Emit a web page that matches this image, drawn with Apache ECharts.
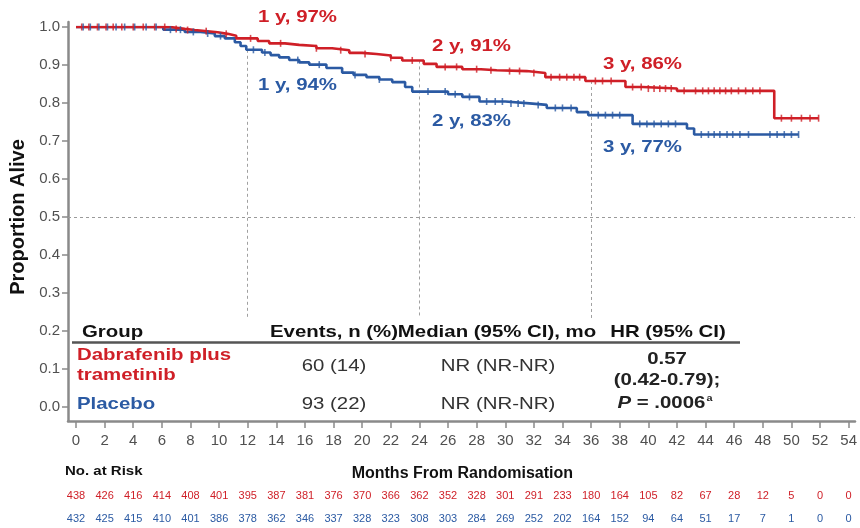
<!DOCTYPE html>
<html>
<head>
<meta charset="utf-8">
<script src="https://cdn.jsdelivr.net/npm/echarts@6/dist/echarts.min.js"></script>
<style>
  html, body { margin: 0; padding: 0; background: #fff; }
  #chart { width: 860px; height: 528px; }
</style>
</head>
<body>
<div id="chart"></div>
<script>
// Kaplan-Meier overall survival: step times (months) and survival after each step
const kmTimeDT = [0, 6.6, 7.6, 8.3, 9.2, 9.9, 10.6, 11.2, 12.7, 13.5, 14.6, 15.6, 16.8, 17.9, 19.1, 20.0, 21.0, 22.0, 22.8, 24.3, 25.2, 27.0, 28.3, 29.4, 31.5, 32.8, 35.6, 38.4, 39.6, 42.0, 48.8, 51.9];
const kmSurvDT = [1.000, 0.995, 0.992, 0.989, 0.986, 0.982, 0.977, 0.970, 0.963, 0.957, 0.953, 0.950, 0.944, 0.939, 0.932, 0.929, 0.925, 0.919, 0.912, 0.903, 0.895, 0.889, 0.886, 0.884, 0.879, 0.868, 0.858, 0.842, 0.838, 0.832, 0.760, 0.760];

const kmTimePbo = [0, 6.1, 7.6, 8.7, 9.7, 10.4, 11.1, 11.5, 11.9, 13.0, 13.6, 14.2, 14.9, 15.6, 16.3, 17.5, 18.6, 19.4, 20.3, 21.2, 22.1, 23.0, 23.5, 26.0, 27.0, 28.2, 30.0, 31.7, 32.9, 35.0, 35.8, 38.9, 42.7, 43.2, 50.5];
const kmSurvPbo = [1.000, 0.993, 0.987, 0.983, 0.976, 0.970, 0.960, 0.950, 0.940, 0.933, 0.926, 0.920, 0.913, 0.907, 0.901, 0.892, 0.880, 0.874, 0.868, 0.862, 0.855, 0.842, 0.830, 0.823, 0.816, 0.804, 0.799, 0.795, 0.787, 0.776, 0.768, 0.745, 0.733, 0.717, 0.717];

// Censoring times (months)
const censorDT = [0.4, 0.9, 1.5, 2.1, 2.6, 3.2, 4.0, 4.7, 5.5, 6.2, 7.0, 7.8, 9.1, 10.5, 12.2, 14.3, 16.8, 18.5, 20.2, 22.0, 23.5, 25.8, 26.6, 28.0, 29.0, 30.3, 31.0, 32.0, 33.2, 33.8, 34.3, 34.8, 35.2, 36.3, 36.8, 37.4, 38.9, 39.5, 40.0, 40.4, 40.8, 41.2, 41.6, 42.5, 43.3, 43.8, 44.2, 44.6, 45.0, 45.4, 45.8, 46.3, 46.8, 47.3, 47.8, 49.3, 50.0, 50.7, 51.3, 51.9];
const censorPbo = [0.5, 1.0, 1.6, 2.2, 2.8, 3.4, 4.1, 4.9, 5.6, 6.6, 7.3, 8.2, 9.2, 10.1, 12.4, 13.2, 15.5, 17.0, 19.5, 21.2, 24.6, 25.8, 26.5, 27.5, 28.7, 29.3, 29.8, 30.4, 30.9, 31.3, 32.3, 33.5, 34.0, 34.6, 36.5, 37.0, 37.5, 38.0, 39.4, 39.9, 40.4, 40.9, 41.4, 41.9, 43.7, 44.2, 44.6, 45.0, 45.5, 45.9, 46.4, 47.0, 48.5, 49.0, 49.5, 50.0, 50.5];

// Numbers at risk at every 2 months (0..54)
const atRiskDT  = [438, 426, 416, 414, 408, 401, 395, 387, 381, 376, 370, 366, 362, 352, 328, 301, 291, 233, 180, 164, 105, 82, 67, 28, 12, 5, 0, 0];
const atRiskPbo = [432, 425, 415, 410, 401, 386, 378, 362, 346, 337, 328, 323, 308, 303, 284, 269, 252, 202, 164, 152, 94, 64, 51, 17, 7, 1, 0, 0];

// Landmark months and where their guide lines begin (proportion alive)
const milestoneMonths = [12, 24, 36];
const milestoneLineTop = [0.94, 0.912, 0.858];
const milestoneLineBottom = 0.234;

// Summary table
const tableHeader = ['Group', 'Events, n (%)', 'Median (95% CI), mo', 'HR (95% CI)'];
const eventsDT = '60 (14)';
const eventsPbo = '93 (22)';
const medianDT = 'NR (NR-NR)';
const medianPbo = 'NR (NR-NR)';
const hrLines = ['0.57', '(0.42-0.79);'];

const RED = '#cf1f27';
const BLUE = '#2b5aa3';
const AXIS_GRAY = '#8a8a8a';
const FONT = '"Liberation Sans", Arial, Helvetica, sans-serif';

function survAt(times, surv, t) {
  let v = surv[0];
  for (let i = 0; i < times.length; i++) { if (times[i] <= t) v = surv[i]; }
  return v;
}
const toPairs = (times, surv) => times.map((t, i) => [t, surv[i]]);
const censorPts = (cens, times, surv) => cens.map(t => [t, survAt(times, surv, t)]);

// Plot area geometry
const G = { left: 76, right: 10, top: 27, bottom: 121 };
const W = 860 - G.left - G.right, H = 528 - G.top - G.bottom;
const pxPerMonth = W / 54, pxPerUnit = H / 1;
// Axis frame extends slightly past the plotting range
const F = { left: 68, right: 5, top: 22, bottom: 107 };
const fxMin = -(G.left - F.left) / pxPerMonth;
const fxMax = 54 + (G.right - F.right) / pxPerMonth;
const fyMin = -((528 - F.bottom) - (528 - G.bottom)) / pxPerUnit;
const fyMax = 1 + (G.top - F.top) / pxPerUnit;

function txt(x, y, text, opts) {
  const o = Object.assign({ size: 17, weight: 'bold', color: '#111', align: 'left', sx: 1.2 }, opts || {});
  return {
    type: 'text', x: x, y: y, scaleX: o.sx, z: 50,
    style: {
      text: text,
      font: o.weight + ' ' + o.size + 'px ' + FONT,
      fill: o.color,
      align: o.align, textAlign: o.align,
      verticalAlign: 'middle', textVerticalAlign: 'middle',
      rich: o.rich
    }
  };
}

const milestoneText = (m, times, surv) => (m / 12) + ' y, ' + Math.round(survAt(times, surv, m) * 100) + '%';

const redLabelPos = [[258, 17], [432, 46], [603, 64]];
const blueLabelPos = [[258, 85], [432, 121], [603, 147]];

const graphics = [];
milestoneMonths.forEach((m, i) => {
  graphics.push(txt(redLabelPos[i][0], redLabelPos[i][1], milestoneText(m, kmTimeDT, kmSurvDT), { color: RED }));
  graphics.push(txt(blueLabelPos[i][0], blueLabelPos[i][1], milestoneText(m, kmTimePbo, kmSurvPbo), { color: BLUE }));
});

// Table
graphics.push(txt(82, 332, tableHeader[0]));
graphics.push(txt(334, 332, tableHeader[1], { align: 'center' }));
graphics.push(txt(497, 332, tableHeader[2], { align: 'center' }));
graphics.push(txt(668, 332, tableHeader[3], { align: 'center' }));
graphics.push({ type: 'line', z: 50, shape: { x1: 72, y1: 342.5, x2: 740, y2: 342.5 }, style: { stroke: '#555', lineWidth: 2.5 } });
graphics.push(txt(77, 355, 'Dabrafenib plus', { color: RED }));
graphics.push(txt(77, 375, 'trametinib', { color: RED }));
graphics.push(txt(77, 404, 'Placebo', { color: BLUE }));
graphics.push(txt(334, 366, eventsDT, { weight: 'normal', color: '#333', align: 'center' }));
graphics.push(txt(334, 404, eventsPbo, { weight: 'normal', color: '#333', align: 'center' }));
graphics.push(txt(498, 366, medianDT, { weight: 'normal', color: '#333', align: 'center' }));
graphics.push(txt(498, 404, medianPbo, { weight: 'normal', color: '#333', align: 'center' }));
graphics.push(txt(667, 359, hrLines[0], { align: 'center', color: '#222' }));
graphics.push(txt(667, 380, hrLines[1], { align: 'center', color: '#222' }));
graphics.push(txt(665, 403, '{i|P} = .0006{s|a}', {
  align: 'center', color: '#222',
  rich: {
    i: { font: 'italic bold 17px ' + FONT, fill: '#222' },
    s: { font: 'bold 9px ' + FONT, fill: '#222', verticalAlign: 'top', padding: [0, 0, 8, 1] }
  }
}));
graphics.push(txt(65, 472, 'No. at Risk', { size: 12.5 }));

const hiddenAxisBits = { axisLine: { show: false }, axisTick: { show: false }, splitLine: { show: false } };

const option = {
  animation: false,
  backgroundColor: '#fff',
  grid: [
    { left: G.left, right: G.right, top: G.top, bottom: G.bottom },
    { left: F.left, right: F.right, top: F.top, bottom: F.bottom }
  ],
  xAxis: [
    {
      type: 'value', gridIndex: 0, min: 0, max: 54, interval: 2, offset: 14,
      axisLine: { show: false, onZero: false },
      axisTick: { show: true, length: 7, lineStyle: { color: AXIS_GRAY, width: 1.5 } },
      axisLabel: { margin: 12, fontSize: 15, color: '#505050', fontFamily: FONT },
      splitLine: { show: false },
      name: 'Months From Randomisation', nameLocation: 'middle', nameGap: 45,
      nameTextStyle: { fontSize: 16, fontWeight: 'bold', color: '#111', fontFamily: FONT }
    },
    {
      type: 'value', gridIndex: 1, min: fxMin, max: fxMax,
      axisLine: { show: true, onZero: false, lineStyle: { color: AXIS_GRAY, width: 2.5 } },
      axisTick: { show: false }, axisLabel: { show: false }, splitLine: { show: false }
    },
    Object.assign({
      type: 'value', gridIndex: 0, min: 0, max: 54, interval: 2, position: 'bottom', offset: 77,
      axisLabel: { margin: 6, fontSize: 11, color: RED, fontFamily: FONT, formatter: v => atRiskDT[Math.round(v / 2)] }
    }, hiddenAxisBits),
    Object.assign({
      type: 'value', gridIndex: 0, min: 0, max: 54, interval: 2, position: 'bottom', offset: 100,
      axisLabel: { margin: 6, fontSize: 11, color: BLUE, fontFamily: FONT, formatter: v => atRiskPbo[Math.round(v / 2)] }
    }, hiddenAxisBits)
  ],
  yAxis: [
    {
      type: 'value', gridIndex: 0, min: 0, max: 1, interval: 0.1, offset: 8,
      axisLine: { show: false, onZero: false },
      axisTick: { show: true, length: 6, lineStyle: { color: AXIS_GRAY, width: 1.5 } },
      axisLabel: { margin: 8, fontSize: 15, color: '#505050', fontFamily: FONT, formatter: v => v.toFixed(1) },
      splitLine: { show: false },
      name: 'Proportion Alive', nameLocation: 'middle', nameRotate: 90, nameGap: 36,
      nameTextStyle: { fontSize: 20, fontWeight: 'bold', color: '#111', fontFamily: FONT }
    },
    {
      type: 'value', gridIndex: 1, min: fyMin, max: fyMax,
      axisLine: { show: true, onZero: false, lineStyle: { color: AXIS_GRAY, width: 2.5 } },
      axisTick: { show: false }, axisLabel: { show: false }, splitLine: { show: false }
    }
  ],
  series: [
    {
      type: 'line', xAxisIndex: 1, yAxisIndex: 1, data: [], silent: true,
      markLine: {
        silent: true, symbol: 'none', label: { show: false },
        lineStyle: { type: [3, 3], color: '#9a9a9a', width: 1 },
        data: [{ yAxis: 0.5 }]
      }
    },
    {
      name: 'Dabrafenib plus trametinib', type: 'line', step: 'end', z: 6,
      data: toPairs(kmTimeDT, kmSurvDT), showSymbol: false,
      lineStyle: { color: RED, width: 2.6 }, itemStyle: { color: RED },
      markLine: {
        silent: true, symbol: 'none', label: { show: false },
        lineStyle: { type: [3, 3], color: '#a0a0a0', width: 1 },
        data: milestoneMonths.map((m, i) => [{ coord: [m, milestoneLineTop[i]] }, { coord: [m, milestoneLineBottom] }])
      }
    },
    {
      name: 'Placebo', type: 'line', step: 'end', z: 5,
      data: toPairs(kmTimePbo, kmSurvPbo), showSymbol: false,
      lineStyle: { color: BLUE, width: 2.6 }, itemStyle: { color: BLUE }
    },
    {
      type: 'scatter', z: 7, symbol: 'rect', symbolSize: [1.6, 7],
      data: censorPts(censorDT, kmTimeDT, kmSurvDT), itemStyle: { color: RED }
    },
    {
      type: 'scatter', z: 7, symbol: 'rect', symbolSize: [1.6, 7],
      data: censorPts(censorPbo, kmTimePbo, kmSurvPbo), itemStyle: { color: BLUE }
    }
  ],
  graphic: graphics
};

const chart = echarts.init(document.getElementById('chart'), null, { renderer: 'canvas' });
chart.setOption(option);
</script>
</body>
</html>
